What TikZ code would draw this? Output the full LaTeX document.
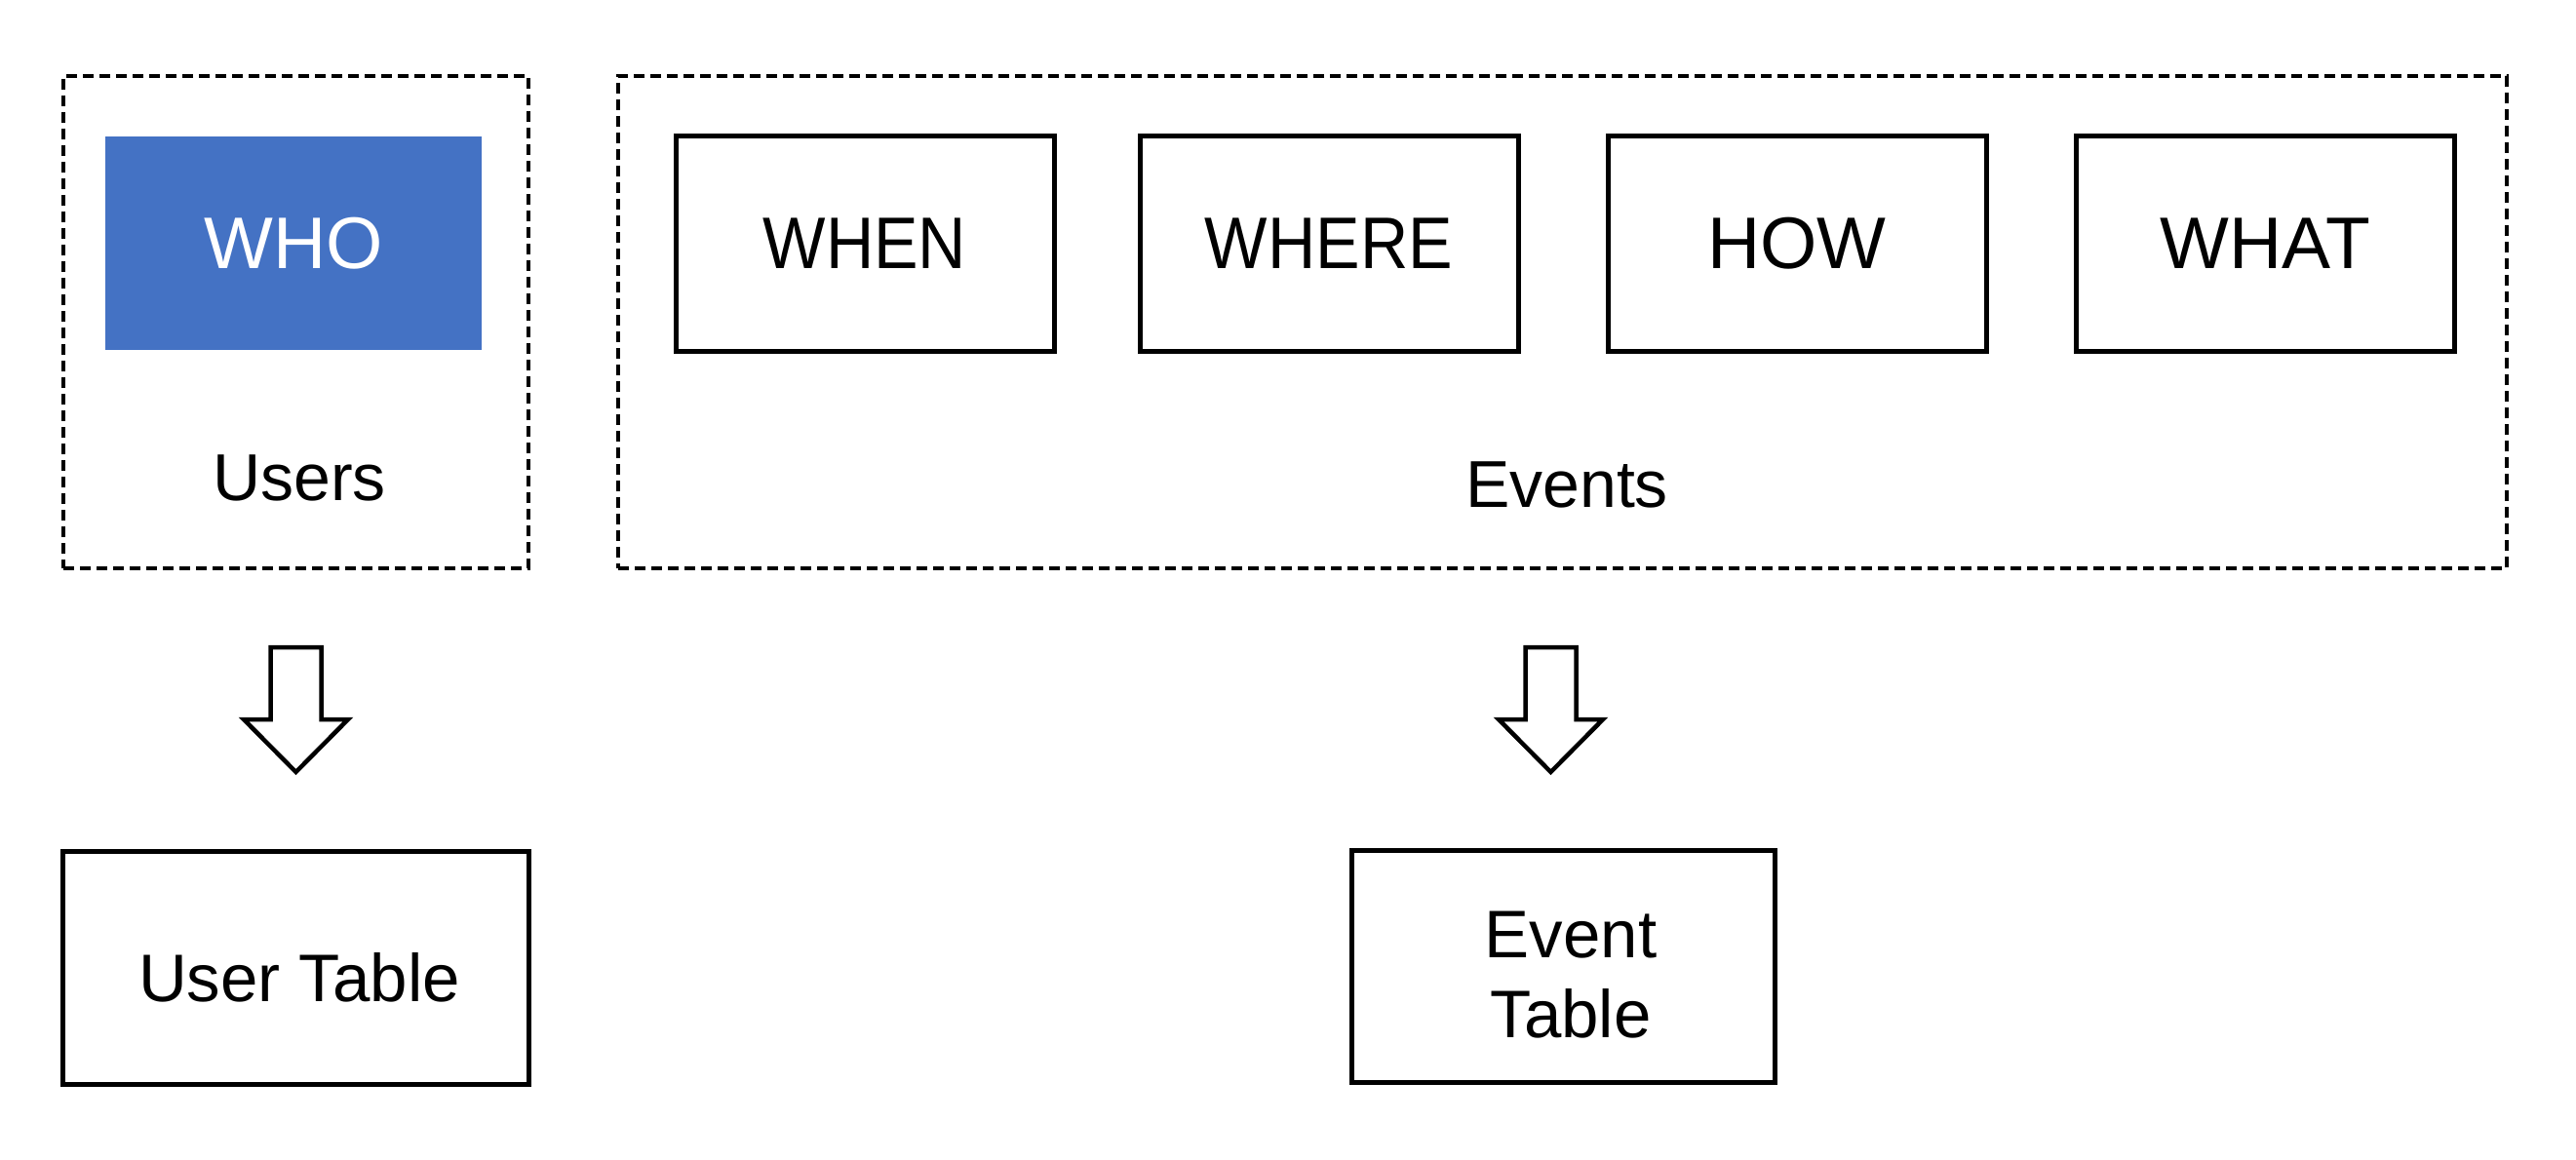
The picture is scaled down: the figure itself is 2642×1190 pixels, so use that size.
\documentclass[tikz,border=0pt]{standalone}
\usepackage{fontspec}
\setmainfont{Liberation Sans}
\newfontfamily\narrowsans[FakeStretch=0.91]{Liberation Sans}
\usetikzlibrary{calc}
\definecolor{whoblue}{HTML}{4472C4}
\begin{document}
\begin{tikzpicture}[x=1pt,y=-1pt,
  dashbox/.style={draw, line width=4.5pt, dash pattern=on 11pt off 6pt, inner sep=0pt, outer sep=0pt},
  wbox/.style={draw, line width=5pt, inner sep=0pt, outer sep=0pt, minimum width=388pt, minimum height=220pt, font=\fontsize{75}{90}\selectfont},
  narrowtext/.style={font=\narrowsans\fontsize{75}{90}\selectfont},
  whobox/.style={fill=whoblue, text=white, inner sep=0pt, outer sep=0pt, minimum width=386pt, minimum height=219pt, font=\fontsize{75}{90}\selectfont},
  grouplabel/.style={inner sep=0pt, font=\fontsize{68}{82}\selectfont},
  tablebox/.style={draw, line width=5pt, inner sep=0pt, outer sep=0pt},
  tabletext/.style={inner sep=0pt, align=center, font=\fontsize{69}{82}\selectfont},
  blockarrow/.style={draw, line width=4.5pt, fill=white, line join=miter}
]
\useasboundingbox[fill=white] (0,0) rectangle (2642,1190);

% group frames
\node[dashbox, minimum width=477pt, minimum height=505pt] (users) at (303.5,330.5) {};
\node[dashbox, minimum width=1937pt, minimum height=505pt] (events) at (1602.5,330.5) {};

% inner boxes
\node[whobox] (who) at (301,249.5) {WHO};
\node[wbox, narrowtext] (when) at (887,250) {WHEN};
\node[wbox, narrowtext] (where) at (1363,250) {WHERE};
\node[wbox] (how) at (1843,250) {HOW};
\node[wbox] (what) at (2323.5,250) {WHAT};

% group labels
\node[grouplabel] (userslbl) at (307,490) {Users};
\node[grouplabel] (eventslbl) at (1607,497) {Events};

% tables
\node[tablebox, minimum width=478pt, minimum height=239pt] (usertable) at (303,992.5) {};
\node[tabletext] (usertabletxt) at (307,1003) {User Table};
\node[tablebox, minimum width=434pt, minimum height=238pt] (eventtable) at (1603,991) {};
\node[tabletext] (eventtabletxt) at (1611,1000) {Event\\Table};

% block arrows
\draw[blockarrow, shift={($(users.south)+(0,81)$)}]
  (-26,0) -- (26,0) -- (26,74) -- (53.5,74) -- (0,128) -- (-53.5,74) -- (-26,74) -- cycle;
\draw[blockarrow, shift={($(events.south)+(-12,81)$)}]
  (-26,0) -- (26,0) -- (26,74) -- (53.5,74) -- (0,128) -- (-53.5,74) -- (-26,74) -- cycle;
\end{tikzpicture}
\end{document}
